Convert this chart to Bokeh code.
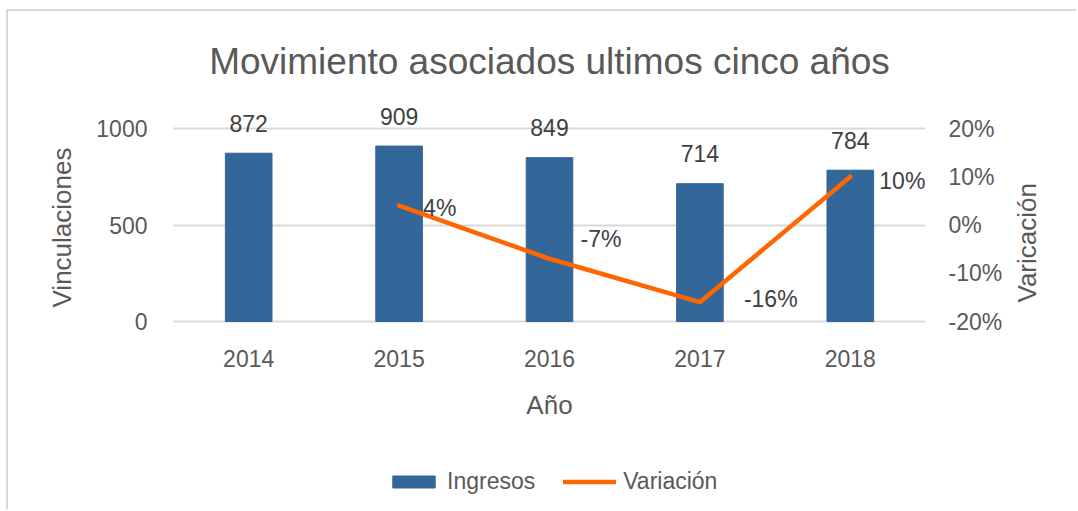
import math
from bokeh.plotting import figure
from bokeh.models import (Range1d, LinearAxis, NumeralTickFormatter, FixedTicker,
                          Legend, LegendItem, ColumnDataSource, Title)
from bokeh.embed import file_html
from bokeh.resources import INLINE
from bokeh.core.properties import value

# ---- data ----
years = ["2014", "2015", "2016", "2017", "2018"]
ingresos = [872, 909, 849, 714, 784]
var_years = ["2015", "2016", "2017", "2018"]
variacion = [0.04, -0.07, -0.16, 0.10]
var_labels = ["4%", "-7%", "-16%", "10%"]
left_ticks = [0, 500, 1000]
right_ticks = [-0.2, -0.1, 0.0, 0.1, 0.2]

FONT = "Liberation Sans"
TXT = "#595959"
LBL = "#404040"
BAR = "#336699"
LINE = "#FF6600"

# category positions on a numeric scale
xpos = list(range(len(years)))
var_xpos = [years.index(y) for y in var_years]

# ---- layout geometry (pixels) ----
OX, OY = 8, 11            # page offset of the figure (margin + border)
W, H = 1070, 500
SPAN = 193                # pixels between axis min and max
TP, BP = 33, 188          # extra frame room above max / below min
L_MIN, L_MAX = 0, 1000
R_MIN, R_MAX = -0.2, 0.2
ly0 = L_MIN - (L_MAX - L_MIN) * BP / SPAN
ly1 = L_MAX + (L_MAX - L_MIN) * TP / SPAN
ry0 = R_MIN - (R_MAX - R_MIN) * BP / SPAN
ry1 = R_MAX + (R_MAX - R_MIN) * TP / SPAN

p = figure(width=W, height=H, x_range=Range1d(-0.5, len(years) - 0.5), y_range=Range1d(ly0, ly1),
           output_backend="svg", toolbar_location=None,
           min_border_left=173 - OX, min_border_right=W - (925 - OX),
           min_border_top=95 - OY, min_border_bottom=H - (509 - OY))
p.margin = (9, 0, 0, 6)
p.styles = {"border-left": "2px solid #d9d9d9", "border-top": "2px solid #d9d9d9"}
p.extra_y_ranges = {"var": Range1d(ry0, ry1)}
p.outline_line_color = None
p.background_fill_color = "white"
p.border_fill_color = "white"

# title
p.add_layout(Title(text="Movimiento asociados ultimos cinco años", align="center",
                   text_font=FONT, text_font_size="37px", text_font_style="normal",
                   text_color=TXT, standoff=28), "above")

# grid
p.xgrid.grid_line_color = None
p.ygrid.ticker = FixedTicker(ticks=left_ticks)
p.ygrid.grid_line_color = "#d9d9d9"
p.ygrid.grid_line_width = 2

# axes
p.xaxis.ticker = FixedTicker(ticks=xpos)
p.xaxis.major_label_overrides = {i: y for i, y in zip(xpos, years)}
p.xaxis.axis_label = "Año"
p.xaxis.fixed_location = L_MIN
p.yaxis.ticker = FixedTicker(ticks=left_ticks)
right = LinearAxis(y_range_name="var", ticker=FixedTicker(ticks=right_ticks),
                   formatter=NumeralTickFormatter(format="0%"), axis_label="Varicación")
p.add_layout(right, "right")
for ax in [p.xaxis[0], p.yaxis[0], right]:
    ax.axis_line_color = None
    ax.major_tick_line_color = None
    ax.minor_tick_line_color = None
    ax.major_tick_out = 0
    ax.major_tick_in = 0
    ax.minor_tick_out = 0
    ax.major_label_text_font = FONT
    ax.major_label_text_font_size = "23px"
    ax.major_label_text_color = TXT
    ax.axis_label_text_font = FONT
    ax.axis_label_text_font_size = "26px"
    ax.axis_label_text_font_style = "normal"
    ax.axis_label_text_color = TXT
p.xaxis.major_label_standoff = 28
p.xaxis.axis_label_standoff = 20
p.yaxis.major_label_standoff = 26
right.major_label_standoff = 23
right.axis_label_standoff = 22
try:
    right.axis_label_orientation = math.pi / 2
except Exception:
    pass

# left axis title (reads bottom-to-top), placed beside the 0..1000 span
p.add_layout(Title(text="Vinculaciones", align="left", offset=202, standoff=34,
                   text_font=FONT, text_font_size="26px", text_font_style="normal",
                   text_color=TXT), "left")

# bars
bars = p.vbar(x=xpos, top=ingresos, width=0.31, fill_color=BAR, line_color=BAR)
p.text(x=xpos, y=ingresos, text=[str(v) for v in ingresos], text_align="center",
       text_baseline="middle", y_offset=-30, text_font=value(FONT), text_font_size="23px",
       text_color=LBL)

# line
line = p.line(x=var_xpos, y=variacion, y_range_name="var", line_color=LINE, line_width=4.5,
              line_cap="round", line_join="round")
lab_dx = [24, 31, 44, 29]
lab_dy = [2, -20, -3, 4]
src = ColumnDataSource(dict(x=var_xpos, y=variacion, t=var_labels, dx=lab_dx, dy=lab_dy))
p.text(x="x", y="y", text="t", source=src, y_range_name="var", x_offset="dx", y_offset="dy",
       text_align="left", text_baseline="middle", text_font=value(FONT),
       text_font_size="23px", text_color=LBL)

legend = Legend(items=[LegendItem(label="Ingresos", renderers=[bars]),
                       LegendItem(label="Variación", renderers=[line])],
                orientation="horizontal", location=(214, 14), glyph_width=53, glyph_height=15,
                label_standoff=7, spacing=28, padding=0, margin=0, border_line_color=None,
                background_fill_alpha=0, label_text_font=FONT, label_text_font_size="23px",
                label_text_color=TXT)
p.add_layout(legend, "center")

open("out.html", "w").write(file_html(p, INLINE))
